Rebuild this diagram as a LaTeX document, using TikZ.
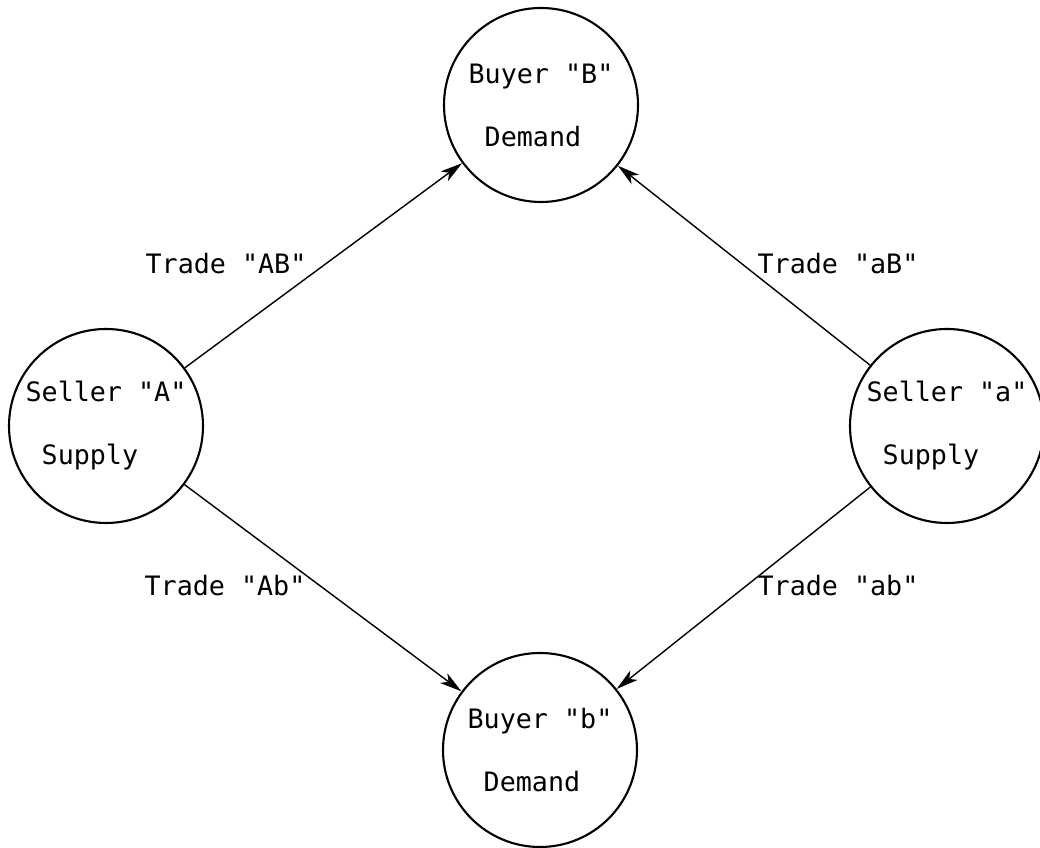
\documentclass[tikz,border=0pt]{standalone}
\usepackage{fontspec}
\setmonofont{DejaVu Sans Mono}
\usetikzlibrary{arrows.meta}

\begin{document}
\begin{tikzpicture}[
    party/.style={draw, circle, line width=1.5pt, minimum size=4.85cm, inner sep=0pt,
        align=left, font=\ttfamily\fontsize{19pt}{44.8pt}\selectfont},
    trade/.style={-{Stealth[length=5.5mm,width=3mm,inset=1.5mm]}, line width=1pt},
    tradelabel/.style={font=\ttfamily\fontsize{19pt}{23pt}\selectfont}
]

    % Page frame
    \useasboundingbox (0,0) rectangle (26,21.2);

    % Buyers (demand side)
    \node[party] (buyB) at (13.525,18.575) {Buyer "B"\\\hphantom{x}Demand};
    \node[party] (buyb) at (13.5,2.45) {Buyer "b"\\\hphantom{x}Demand};

    % Sellers (supply side)
    \node[party] (selA) at (2.65,10.55) {Seller "A"\\\hphantom{x}Supply};
    \node[party] (sela) at (23.675,10.55) {Seller "a"\\\hphantom{x}Supply};

    % Trades from each seller to each buyer
    \draw[trade] (selA) -- (buyB);
    \draw[trade] (selA) -- (buyb);
    \draw[trade] (sela) -- (buyB);
    \draw[trade] (sela) -- (buyb);

    % Trade labels
    \node[tradelabel] (tAB) at (5.65,14.6) {Trade "AB"};
    \node[tradelabel] (taB) at (20.95,14.6) {Trade "aB"};
    \node[tradelabel] (tAb) at (5.625,6.55) {Trade "Ab"};
    \node[tradelabel] (tab) at (20.95,6.55) {Trade "ab"};

\end{tikzpicture}
\end{document}
